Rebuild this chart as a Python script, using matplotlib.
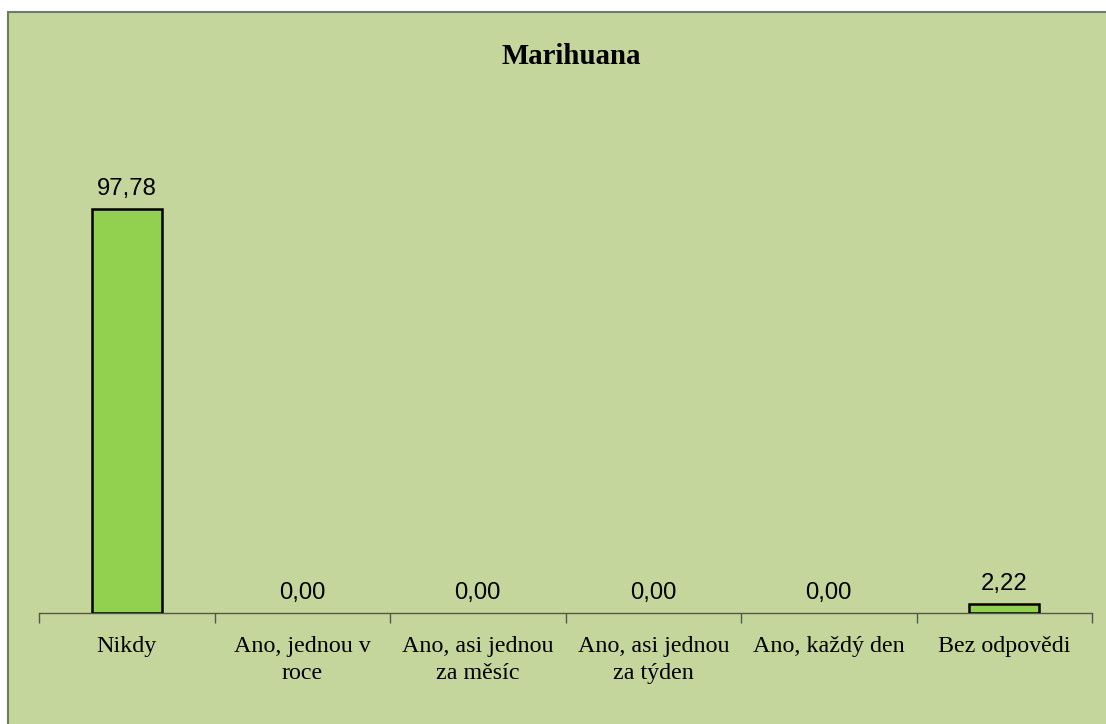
import matplotlib.pyplot as plt
from matplotlib.patches import Rectangle
from matplotlib.ticker import FixedLocator

# data
categories = ['Nikdy', 'Ano, jednou v\nroce', 'Ano, asi jednou\nza měsíc',
              'Ano, asi jednou\nza týden', 'Ano, každý den', 'Bez odpovědi']
values = [97.78, 0.00, 0.00, 0.00, 0.00, 2.22]

bg = '#C4D69B'
bar_col = '#92D050'

fig = plt.figure(figsize=(11.06, 7.24), dpi=100)
fig.patch.set_facecolor('white')
# chart area with border on top/left (cropped on right/bottom)
fig.add_artist(Rectangle((8 / 1106, -0.1), 1.2, (724 - 12) / 724 + 0.1,
                         transform=fig.transFigure, facecolor=bg,
                         edgecolor='#6E7D5C', linewidth=1.5, zorder=0))

ax = fig.add_axes([39 / 1106, (724 - 613) / 724, (1092 - 39) / 1106, (613 - 117) / 724])
ax.set_facecolor('none')
x = range(len(values))
bars = ax.bar(x, values, width=0.4, color=bar_col, edgecolor='black', linewidth=1.8, zorder=3)
for b, v in zip(bars, values):
    if v == 0:
        b.set_linewidth(0)
ax.set_xlim(-0.5, len(values) - 0.5)
ax.set_ylim(0, 120)

for xi, v in zip(x, values):
    ax.annotate(f'{v:.2f}'.replace('.', ','), (xi, v), xytext=(0, 10),
                textcoords='offset points', ha='center', va='baseline',
                fontsize=17.2, family='Liberation Sans')

for s in ['top', 'right', 'left']:
    ax.spines[s].set_visible(False)
ax.spines['bottom'].set_color('#555555')
ax.spines['bottom'].set_linewidth(1)
ax.set_yticks([])
ax.set_xticks(list(x))
ax.set_xticklabels(categories, family='Liberation Serif', fontsize=17.3, linespacing=1.4)
ax.tick_params(axis='x', which='major', length=0, pad=16.5)
ax.xaxis.set_minor_locator(FixedLocator([i - 0.5 for i in range(len(values) + 1)]))
ax.tick_params(axis='x', which='minor', length=7, direction='out', color='#555555', width=1)

fig.text(571 / 1106, 1 - 57 / 724, 'Marihuana', ha='center', va='center',
         fontsize=20.8, fontweight='bold', family='Liberation Serif')

fig.savefig('out.png', dpi=100)
